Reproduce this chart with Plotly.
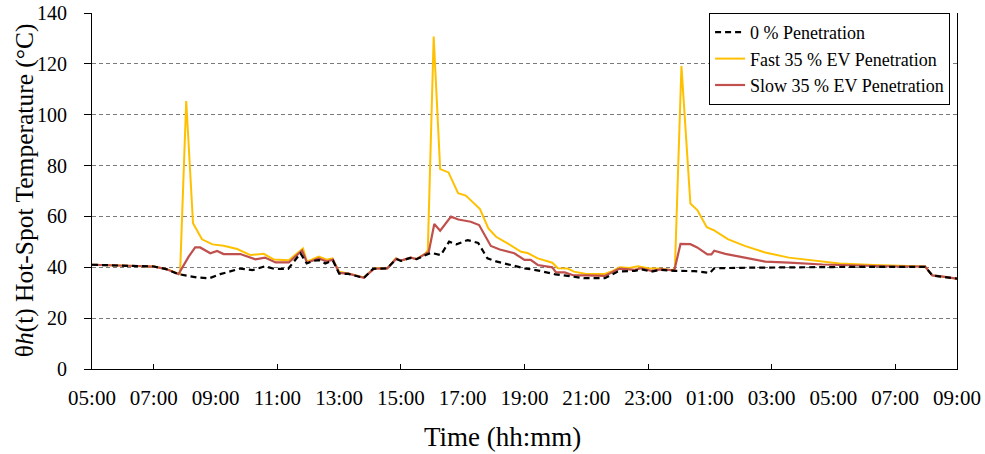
import plotly.graph_objects as go

# Time in hours after 05:00 (day 1) -> 28 h = 09:00 (day 2)
tick_hours = [0, 2, 4, 6, 8, 10, 12, 14, 16, 18, 20, 22, 24, 26, 28]
tick_labels = ["05:00", "07:00", "09:00", "11:00", "13:00", "15:00", "17:00", "19:00",
               "21:00", "23:00", "01:00", "03:00", "05:00", "07:00", "09:00"]
minor_tick_hours = [2, 6, 10, 14, 18, 22, 26]
grid_values = [20, 40, 60, 80, 100, 120]

base_t = [0, 0.5, 1.0, 1.5, 2.0, 2.4, 2.8, 3.4, 3.8, 4.15, 4.5, 4.8, 5.2, 5.6, 5.9, 6.35,
          6.75, 6.95, 7.15, 7.35, 7.55, 7.8, 8.0, 8.3, 8.8, 9.1, 9.55, 9.85, 10.0, 10.3,
          10.5, 10.8, 10.97, 11.29, 11.56, 11.8, 12.16, 12.5, 12.8, 13.08, 13.56, 14.0,
          14.5, 15.0, 15.4, 15.94, 16.6, 17.02, 17.57, 17.78, 18.1, 18.4, 18.86, 19.5,
          20.0, 20.14, 21.0, 22.0, 23.0, 24.0, 25.0, 26.0, 26.97, 27.2, 27.5, 28.0]
base_v = [41.0, 40.8, 40.6, 40.5, 40.3, 39.3, 37.3, 36.0, 35.7, 37.3, 38.6, 39.5, 38.9, 40.4, 39.4, 39.4,
          45.5, 41.5, 42.5, 42.8, 41.5, 42.6, 37.5, 37.4, 35.8, 39.4, 39.6, 43.3, 42.5, 43.7,
          43.2, 44.8, 45.7, 44.8, 50.1, 49.0, 50.7, 49.6, 43.5, 42.3, 40.9, 39.6,
          38.6, 37.2, 36.6, 35.7, 35.7, 38.3, 38.6, 39.2, 38.3, 39.0, 38.6, 38.5,
          37.8, 39.6, 39.8, 40.0, 40.0, 40.1, 40.2, 40.3, 40.2, 36.8, 36.4, 35.5]

fast_t = [0, 0.5, 1.0, 1.5, 2.0, 2.4, 2.85, 3.05, 3.27, 3.56, 3.9, 4.26, 4.7, 5.13, 5.56,
          5.88, 6.37, 6.83, 6.96, 7.34, 7.6, 7.78, 8.0, 8.3, 8.8, 9.13, 9.56, 9.83, 10.0,
          10.32, 10.5, 10.8, 10.87, 11.06, 11.27, 11.54, 11.85, 12.1, 12.56, 12.83, 13.08,
          13.45, 13.89, 14.1, 14.43, 14.9, 15.08, 15.4, 15.6, 16.0, 16.6, 16.86, 17.08,
          17.4, 17.67, 18.0, 18.43, 18.8, 18.87, 19.08, 19.37, 19.6, 19.9, 20.14, 20.58,
          21.13, 21.79, 22.56, 23.44, 24.2, 25.3, 26.4, 26.97, 27.2, 27.5, 28.0]
fast_v = [41.0, 40.8, 40.6, 40.5, 40.3, 39.3, 37.3, 105.4, 57.3, 51.0, 49.0, 48.5, 47.2, 44.8, 45.3,
          43.1, 42.8, 47.4, 42.2, 44.2, 43.0, 43.5, 38.3, 37.6, 36.0, 39.6, 39.6, 43.5, 42.6,
          43.8, 43.2, 45.5, 46.8, 130.7, 78.6, 77.3, 69.1, 68.2, 62.9, 55.3, 52.0,
          49.4, 46.1, 45.6, 43.5, 41.8, 39.6, 39.5, 38.3, 37.4, 37.4, 38.6, 40.0,
          39.7, 40.4, 39.6, 39.4, 38.8, 40.0, 119.1, 65.1, 62.4, 55.8, 54.5, 51.1,
          48.4, 45.8, 43.8, 42.5, 41.5, 40.9, 40.5, 40.3, 36.8, 36.4, 35.5]

slow_t = [0, 0.5, 1.0, 1.5, 2.0, 2.4, 2.8, 3.13, 3.34, 3.5, 3.83, 4.05, 4.26, 4.8, 5.29,
          5.6, 5.94, 6.37, 6.8, 6.96, 7.34, 7.6, 7.8, 8.0, 8.3, 8.8, 9.13, 9.56, 9.85,
          10.0, 10.32, 10.5, 10.8, 10.9, 11.08, 11.27, 11.62, 11.86, 12.26, 12.53, 12.91,
          13.2, 13.67, 14.0, 14.2, 14.43, 14.9, 15.02, 15.3, 15.6, 16.0, 16.6, 16.9, 17.08,
          17.57, 17.78, 18.1, 18.43, 18.85, 19.05, 19.37, 19.59, 19.92, 20.05, 20.14, 20.5,
          21.13, 21.8, 22.56, 23.65, 24.75, 26.0, 26.97, 27.2, 27.5, 28.0]
slow_v = [41.0, 40.8, 40.6, 40.5, 40.3, 39.3, 37.3, 44.2, 47.8, 47.8, 45.5, 46.4, 45.2, 45.2, 43.1,
          43.8, 41.9, 41.9, 46.6, 41.8, 43.5, 42.3, 43.0, 37.8, 37.5, 35.9, 39.5, 39.6, 43.4,
          42.6, 43.8, 43.2, 45.2, 46.0, 57.0, 54.4, 59.9, 58.8, 57.9, 56.6, 48.4,
          47.0, 45.5, 42.9, 42.9, 40.9, 40.0, 38.0, 38.0, 36.8, 36.8, 36.6, 38.4, 39.5,
          39.0, 39.6, 38.6, 39.2, 38.8, 49.2, 49.1, 47.8, 45.1, 45.1, 46.5, 45.3,
          43.8, 42.2, 41.8, 41.1, 40.7, 40.3, 40.3, 36.8, 36.4, 35.5]

FONT = "Liberation Serif, Times New Roman, serif"

fig = go.Figure()
fig.add_trace(go.Scatter(x=fast_t, y=fast_v, mode="lines", name="Fast 35 % EV Penetration",
                         line=dict(color="#FFC000", width=2), legendrank=2))
fig.add_trace(go.Scatter(x=slow_t, y=slow_v, mode="lines", name="Slow 35 % EV Penetration",
                         line=dict(color="#C0504D", width=2.2), legendrank=3))
fig.add_trace(go.Scatter(x=base_t, y=base_v, mode="lines", name="0 % Penetration",
                         line=dict(color="black", width=2.2, dash="6px,4px"), legendrank=1))
# helper trace for overlay axes (tick marks and gridlines)
fig.add_trace(go.Scatter(x=[None], y=[None], xaxis="x2", yaxis="y2", showlegend=False,
                         hoverinfo="skip"))

fig.update_layout(
    width=985, height=454,
    margin=dict(l=92, r=28, t=13, b=85),
    paper_bgcolor="white", plot_bgcolor="rgba(0,0,0,0)",
    font=dict(family=FONT, color="black"),
    showlegend=True,
    legend=dict(x=0.992, y=1.0, xanchor="right", yanchor="top",
                bgcolor="white", bordercolor="black", borderwidth=1, itemwidth=30,
                font=dict(size=18, family=FONT), tracegroupgap=0),
    xaxis=dict(range=[0, 28], tickvals=tick_hours, ticktext=tick_labels, ticks="",
               showgrid=False, zeroline=False, showline=True, linecolor="black", linewidth=1,
               tickfont=dict(size=21, family=FONT), ticklabelstandoff=10, automargin=False),
    yaxis=dict(range=[0, 140], tickvals=[0, 20, 40, 60, 80, 100, 120, 140],
               ticks="outside", ticklen=7, tickcolor="black", automargin=False,
               showgrid=False, zeroline=False, showline=True, linecolor="black", linewidth=1,
               mirror=True, tickfont=dict(size=20, family=FONT), ticklabelstandoff=13),
    xaxis2=dict(range=[0, 28], overlaying="x", anchor="y2", side="bottom", automargin=False,
                tickvals=minor_tick_hours, ticks="inside", ticklen=5, tickcolor="black",
                showticklabels=False, showgrid=False, zeroline=False, showline=False),
    yaxis2=dict(range=[0, 140], overlaying="y", anchor="x2", side="left", automargin=False,
                tickvals=grid_values, ticks="", showticklabels=False,
                showgrid=True, gridcolor="#7a7a7a", gridwidth=1, griddash="4px,3px",
                zeroline=False, showline=False),
    annotations=[
        dict(text="Time (hh:mm)", xref="paper", yref="paper", x=0.474, y=-0.19,
             xanchor="center", yanchor="middle", showarrow=False,
             font=dict(size=27, family=FONT, color="black")),
        dict(text="θ<i>h</i>(t) Hot-Spot Temperature (°C)", xref="paper", yref="paper",
             x=-0.077, y=0.503, xanchor="center", yanchor="middle", textangle=-90,
             showarrow=False, font=dict(size=25.5, family=FONT, color="black")),
    ],
)

fig.write_html("out.html")
